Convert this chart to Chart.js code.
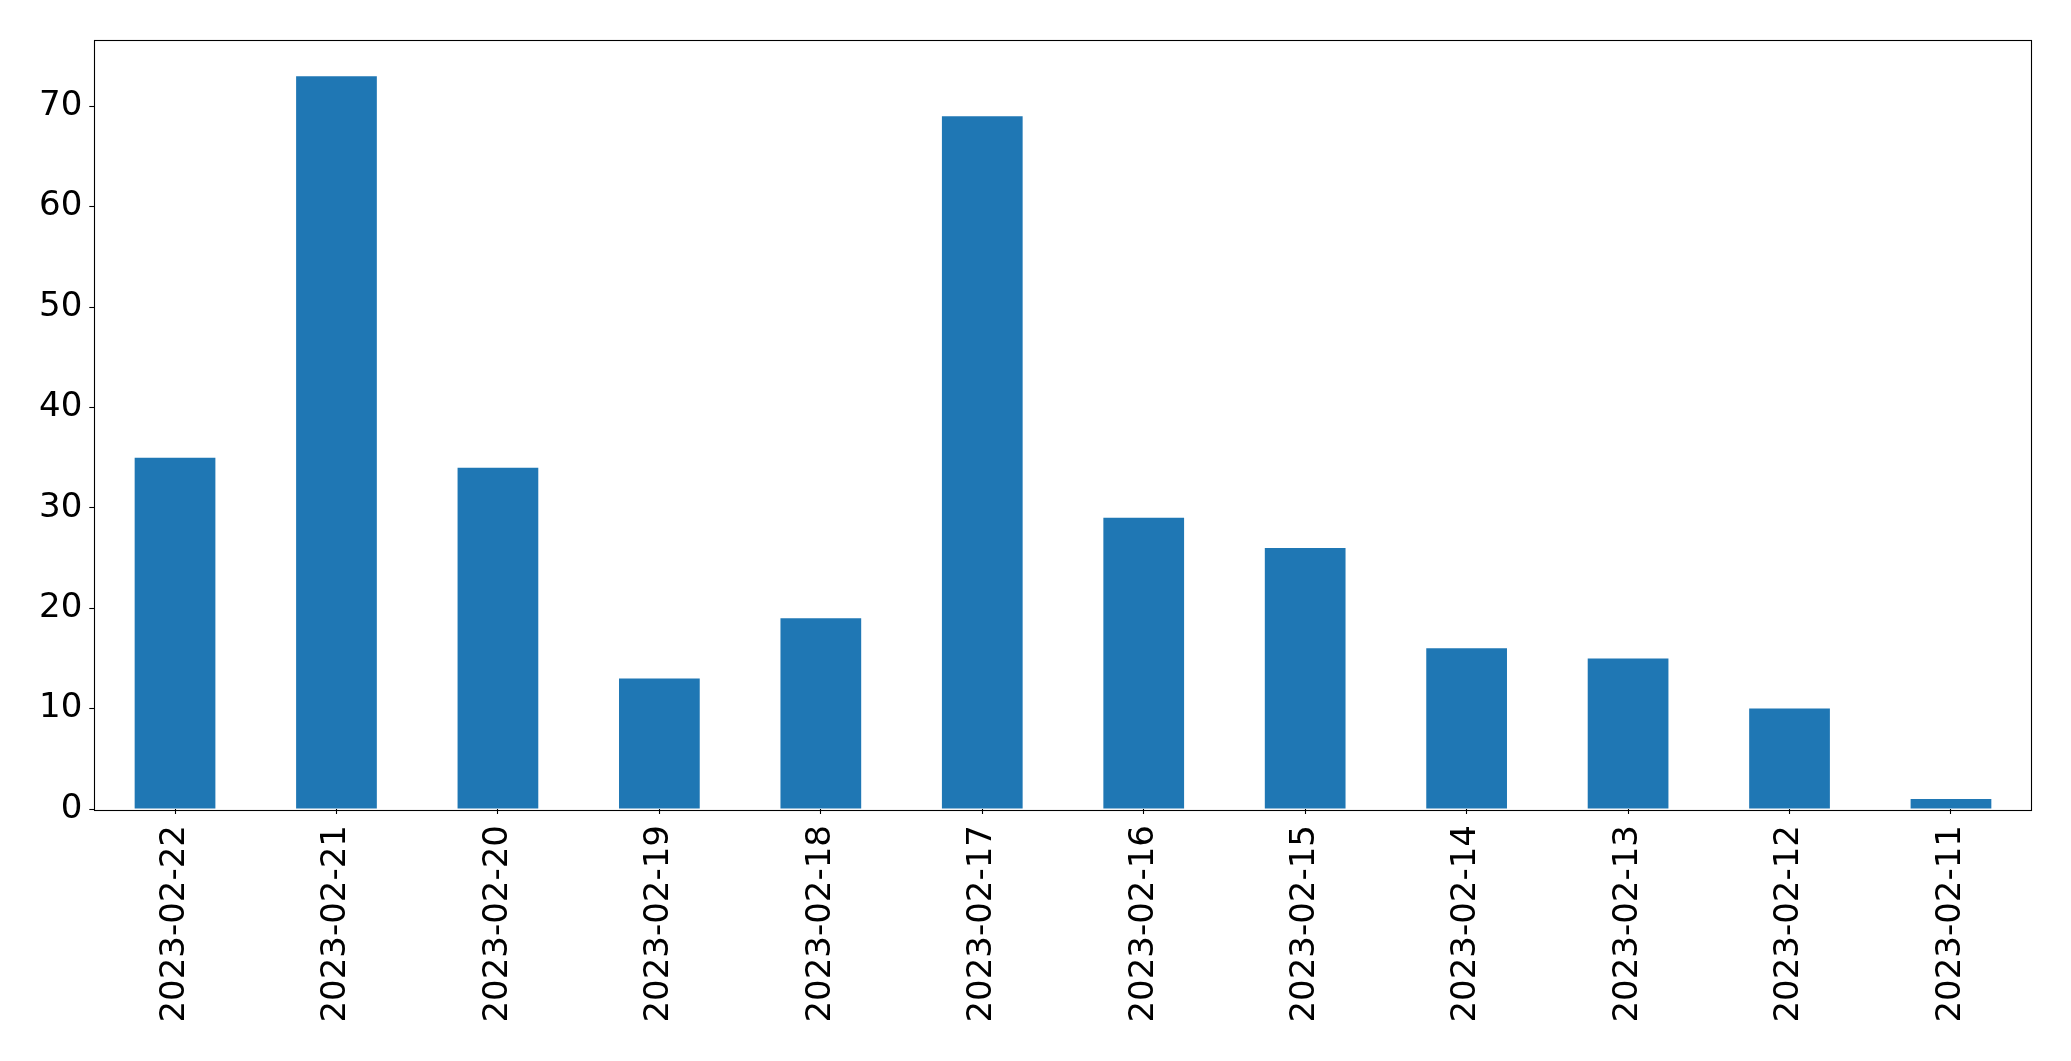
<!DOCTYPE html>
<html>
<head>
<meta charset="utf-8">
<script src="https://cdn.jsdelivr.net/npm/chart.js@4/dist/chart.umd.min.js"></script>
<style>
html,body{margin:0;padding:0;background:#fff;}
#wrap{width:2071px;height:1061px;position:relative;}
</style>
</head>
<body>
<div id="wrap"><canvas id="c"></canvas></div>
<script>
const categories = ["2023-02-22","2023-02-21","2023-02-20","2023-02-19","2023-02-18","2023-02-17","2023-02-16","2023-02-15","2023-02-14","2023-02-13","2023-02-12","2023-02-11"];
const counts = [35, 73, 34, 13, 19, 69, 29, 26, 16, 15, 10, 1];
const yTicks = [0, 10, 20, 30, 40, 50, 60, 70];
const yMax = 76.65;

const frame = {
  id: 'frame',
  afterDatasetsDraw(chart) {
    const a = chart.chartArea, ctx = chart.ctx;
    ctx.save();
    ctx.strokeStyle = '#000';
    ctx.lineWidth = 1.1;
    ctx.strokeRect(Math.round(a.left) + 0.5, Math.round(a.top) + 0.5, Math.round(a.right - a.left), Math.round(a.bottom - a.top));
    ctx.restore();
  }
};

new Chart(document.getElementById('c'), {
  type: 'bar',
  data: {
    labels: categories,
    datasets: [{
      data: counts,
      backgroundColor: '#1f77b4',
      borderWidth: 0,
      inflateAmount: 0,
      categoryPercentage: 1.0,
      barPercentage: 0.5
    }]
  },
  options: {
    responsive: true,
    maintainAspectRatio: false,
    animation: false,
    devicePixelRatio: 1,
    layout: { padding: { top: 39.5, right: 39.3, left: 0, bottom: 0 } },
    plugins: { legend: { display: false }, tooltip: { enabled: false } },
    scales: {
      x: {
        offset: true,
        grid: { display: true, offset: false, drawOnChartArea: false, drawTicks: true, tickLength: 5, tickColor: '#000', tickWidth: 1.1 },
        border: { display: false },
        ticks: {
          color: '#000',
          font: { family: 'DejaVu Sans', size: 34 },
          minRotation: 90, maxRotation: 90,
          autoSkip: false,
          padding: 11
        },
        afterFit(s) { s.height = 252; }
      },
      y: {
        min: 0,
        max: yMax,
        grid: { display: true, drawOnChartArea: false, drawTicks: true, tickLength: 5, tickColor: '#000', tickWidth: 1.1 },
        border: { display: false },
        afterBuildTicks(s) { s.ticks = yTicks.map(v => ({ value: v })); },
        ticks: {
          color: '#000',
          font: { family: 'DejaVu Sans', size: 34 },
          padding: 7
        },
        afterFit(s) { s.width = 94.3; }
      }
    }
  },
  plugins: [frame]
});
</script>
</body>
</html>
